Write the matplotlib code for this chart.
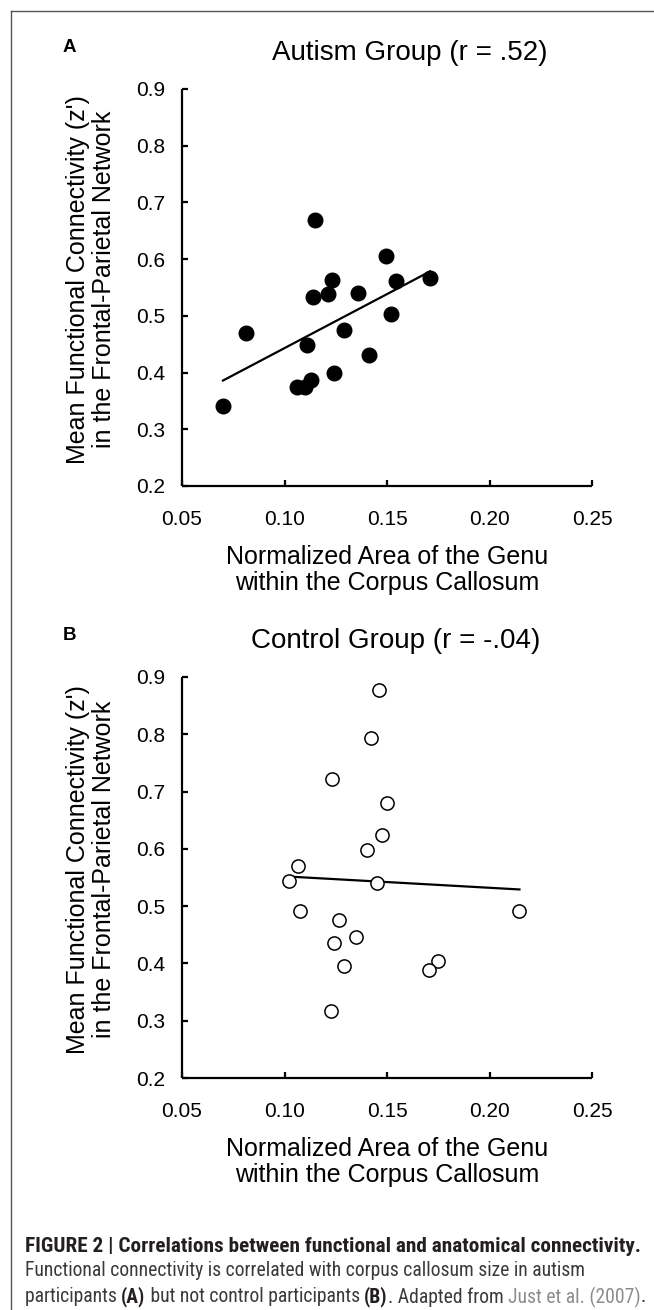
import numpy as np
import matplotlib
matplotlib.use("Agg")
import matplotlib.pyplot as plt
from matplotlib import font_manager as fm

# ---------------- data ----------------
autism_x = [0.070, 0.081, 0.115, 0.1495, 0.123, 0.1545, 0.171, 0.114, 0.121,
            0.136, 0.152, 0.129, 0.111, 0.141, 0.124, 0.113, 0.110, 0.106]
autism_y = [0.341, 0.470, 0.669, 0.605, 0.563, 0.561, 0.566, 0.533, 0.538,
            0.540, 0.503, 0.475, 0.448, 0.431, 0.399, 0.387, 0.375, 0.374]
control_x = [0.146, 0.142, 0.123, 0.150, 0.1476, 0.140, 0.1064, 0.1023, 0.145,
             0.1077, 0.2146, 0.1264, 0.1349, 0.1243, 0.1747, 0.1706, 0.1289, 0.1227]
control_y = [0.877, 0.793, 0.722, 0.680, 0.6235, 0.598, 0.5705, 0.544, 0.541,
             0.492, 0.492, 0.476, 0.4455, 0.435, 0.405, 0.3885, 0.3955, 0.317]
titles = ["Autism Group (r = .52)", "Control Group (r = -.04)"]
panel_letters = ["A", "B"]
xticks = [0.05, 0.10, 0.15, 0.20, 0.25]
yticks = [0.2, 0.3, 0.4, 0.5, 0.6, 0.7, 0.8, 0.9]
ylabel = "Mean Functional Connectivity (z')\nin the Frontal-Parietal Network"
xlabel = "Normalized Area of the Genu\nwithin the Corpus Callosum"
caption1 = "FIGURE 2 | Correlations between functional and anatomical connectivity."
caption2 = "Functional connectivity is correlated with corpus callosum size in autism"
caption3 = [("participants ", "normal", "#3a3a3a"), ("(A)", "bold", "#231f20"),
            (" but not control participants ", "normal", "#3a3a3a"), ("(B)", "bold", "#231f20"),
            (". Adapted from ", "normal", "#3a3a3a"), ("Just et al. (2007)", "normal", "#8c8c8c"),
            (".", "normal", "#3a3a3a")]

plt.rcParams['font.family'] = ['Liberation Sans', 'DejaVu Sans']

# pick a condensed font for the caption, if one is installed
entries = [(f.name, f.stretch) for f in fm.fontManager.ttflist]
cap_family, cap_stretch = "Liberation Sans", "normal"
for fam in ["Liberation Sans Narrow", "Roboto Condensed", "Open Sans Condensed",
            "Noto Sans Condensed"]:
    if any(n == fam for n, s in entries):
        cap_family, cap_stretch = fam, "normal"
        break
else:
    for n, s in entries:
        if n in ("Roboto", "Open Sans", "Noto Sans", "DejaVu Sans") and str(s) in ("condensed", "semi-condensed", "75", "87"):
            cap_family, cap_stretch = n, s
            break

W, H = 654, 1310
fig = plt.figure(figsize=(W / 100, H / 100), dpi=100)

def fx(px):
    return px / W

def fy(py):
    return 1 - py / H

# frame (top and left lines)
fig.add_artist(plt.Line2D([fx(11), 1.0], [fy(11), fy(11)], color="#555555", lw=1.0))
fig.add_artist(plt.Line2D([fx(11), fx(11)], [fy(11), 0.0], color="#555555", lw=1.0))

panels = [
    dict(top=89, bottom=486, x=autism_x, y=autism_y, filled=True, title_x=410),
    dict(top=677, bottom=1078, x=control_x, y=control_y, filled=False, title_x=396),
]
left, right = 182, 592

for i, p in enumerate(panels):
    ax = fig.add_axes([fx(left), fy(p["bottom"]), fx(right - left), (p["bottom"] - p["top"]) / H])
    xs = np.array(p["x"]); ys = np.array(p["y"])
    if p["filled"]:
        ax.plot(xs, ys, "o", ms=10.5, color="black", mec="black", zorder=3, clip_on=False)
    else:
        ax.plot(xs, ys, "o", ms=9.5, mfc="white", mec="black", mew=1.1, zorder=3, clip_on=False)
    k, b = np.polyfit(xs, ys, 1)
    xl = np.array([xs.min(), xs.max()])
    ax.plot(xl, k * xl + b, color="black", lw=1.6, zorder=2)
    ax.set_xlim(0.05, 0.25)
    ax.set_ylim(0.2, 0.9)
    ax.set_xticks(xticks)
    ax.set_xticklabels([f"{v:.2f}" for v in xticks])
    ax.set_yticks(yticks)
    ax.set_yticklabels([f"{v:.1f}" for v in yticks])
    for s in ["top", "right"]:
        ax.spines[s].set_visible(False)
    for s in ["left", "bottom"]:
        ax.spines[s].set_linewidth(1.6)
        ax.spines[s].set_capstyle("butt")
    ax.tick_params(axis="both", direction="in", length=4.5, width=1.6, labelsize=15)
    ax.tick_params(axis="x", pad=17)
    ax.tick_params(axis="y", pad=12)
    ax.patch.set_alpha(0)

    fig.text(fx(p["title_x"]), fy(p["top"] - 36), titles[i], fontsize=20,
             ha="center", va="center")
    fig.text(fx(69.5), fy(p["top"] - 42), panel_letters[i], fontsize=13.5,
             fontweight="bold", ha="center", va="center")
    fig.text(fx(91), fy((p["top"] + p["bottom"]) / 2 - 8), ylabel, fontsize=18,
             rotation=90, ha="center", va="center", multialignment="center",
             linespacing=1.15)
    fig.text(fx(387), fy(p["bottom"] + 84), xlabel, fontsize=18,
             ha="center", va="center", multialignment="center", linespacing=1.15)

# caption: fit font sizes so lines span the reference widths
fig.canvas.draw()
renderer = fig.canvas.get_renderer()
capx = 25

def width_at10(txt, wt):
    t = fig.text(0, 0, txt, family=cap_family, fontstretch=cap_stretch,
                 fontsize=10, fontweight=wt)
    w = t.get_window_extent(renderer=renderer).width
    t.remove()
    return w

size1 = min(16.0, 10 * 615 / width_at10(caption1, "bold"))
w3 = sum(width_at10(txt, wt) for txt, wt, _ in caption3)
size3 = min(16.0, 10 * 620 / w3)

fig.text(fx(capx), fy(1246), caption1, family=cap_family, fontstretch=cap_stretch,
         fontsize=size1, fontweight="bold", color="#231f20", ha="left", va="center")
fig.text(fx(capx), fy(1271), caption2, family=cap_family, fontstretch=cap_stretch,
         fontsize=size3, color="#3a3a3a", ha="left", va="center")
xcur = capx
for txt, wt, col in caption3:
    t = fig.text(fx(xcur), fy(1297), txt, family=cap_family, fontstretch=cap_stretch,
                 fontsize=size3, fontweight=wt, color=col, ha="left", va="center")
    xcur += t.get_window_extent(renderer=renderer).width

fig.savefig("out.png", dpi=100)
